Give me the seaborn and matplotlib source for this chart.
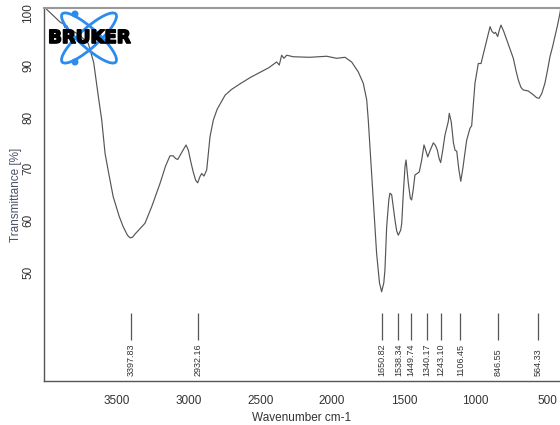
import matplotlib
matplotlib.use("Agg")
import matplotlib.pyplot as plt
import matplotlib.patheffects as pe
from matplotlib.patches import Ellipse, Circle
import pandas as pd
import seaborn as sns

# Spectrum (wavenumber cm-1, transmittance %)
wavenumber = [3990, 3940, 3895, 3870, 3860, 3848, 3835, 3813, 3760, 3698,
              3660, 3628, 3604, 3581, 3558, 3524, 3482, 3454, 3425, 3407,
              3390, 3373, 3340, 3303, 3256, 3198, 3160, 3129, 3106, 3090,
              3075, 3050, 3017, 3001, 2985, 2967, 2950, 2936, 2920, 2908,
              2892, 2873, 2860, 2850, 2827, 2800, 2745, 2700, 2640, 2570,
              2501, 2440, 2386, 2368, 2351, 2335, 2316, 2270, 2154, 2038,
              1968, 1910, 1864, 1818, 1783, 1759, 1748, 1736, 1713, 1690,
              1670, 1655, 1640, 1632, 1620, 1605, 1597, 1585, 1562, 1550,
              1539, 1522, 1515, 1504, 1492, 1485, 1477, 1469, 1455, 1446,
              1435, 1423, 1393, 1376, 1360, 1347, 1334, 1318, 1295, 1280,
              1267, 1255, 1244, 1230, 1214, 1191, 1184, 1170, 1155, 1144,
              1132, 1118, 1104, 1090, 1063, 1040, 1028, 1005, 982, 963,
              935, 900, 887, 873, 862, 847, 835, 824, 805, 784,
              760, 738, 720, 703, 685, 669, 650, 634, 600, 575,
              559, 540, 518, 500, 483, 465, 448, 430, 413, 405]
transmittance = [100.8, 99.5, 98.3, 97.9, 97.2, 97.6, 96.9, 96.7, 95.8, 94.2,
                 90.5, 84.0, 79.4, 73.0, 69.5, 64.6, 60.8, 58.8, 57.2, 56.7,
                 56.8, 57.4, 58.4, 59.5, 62.7, 67.2, 70.5, 72.5, 72.5, 72.0,
                 71.8, 73.0, 74.6, 73.6, 71.5, 69.4, 67.8, 67.3, 68.5, 69.1,
                 68.6, 69.8, 73.5, 76.2, 79.4, 81.5, 84.2, 85.3, 86.4, 87.6,
                 88.6, 89.5, 90.6, 90.0, 91.9, 91.3, 91.9, 91.6, 91.5, 91.7,
                 91.3, 91.5, 90.6, 88.7, 86.5, 83.3, 79.4, 74.0, 64.0, 53.7,
                 48.0, 46.3, 48.0, 50.5, 58.8, 64.0, 65.3, 65.0, 60.1, 58.0,
                 57.2, 58.2, 59.5, 65.3, 70.5, 71.7, 69.5, 67.2, 64.3, 64.0,
                 66.0, 68.8, 69.4, 71.7, 74.6, 73.5, 72.3, 73.5, 75.0, 74.5,
                 73.6, 72.0, 71.2, 73.5, 76.5, 79.1, 80.7, 79.0, 75.0, 73.6,
                 73.4, 70.0, 67.6, 70.0, 75.5, 77.8, 78.3, 86.5, 90.3, 90.3,
                 93.5, 97.4, 96.5, 96.1, 96.3, 95.5, 96.8, 97.7, 96.5, 94.8,
                 93.0, 91.3, 89.0, 87.1, 85.7, 85.2, 85.1, 85.0, 84.3, 83.7,
                 83.6, 84.5, 86.5, 89.0, 91.6, 93.5, 95.5, 97.7, 100.0, 101.5]

# Labelled peaks
peaks = [3397.83, 2932.16, 1650.82, 1538.34, 1449.74, 1340.17, 1243.10,
         1106.45, 846.55, 564.33]

x_ticks = [3500, 3000, 2500, 2000, 1500, 1000, 500]
y_ticks = [50, 60, 70, 80, 90, 100]

spectrum = pd.DataFrame({"wavenumber": wavenumber, "transmittance": transmittance})

sns.set_style("white")
plt.rcParams['font.family'] = ['Liberation Sans', 'DejaVu Sans']

W, H = 560, 425
fig = plt.figure(figsize=(W / 100, H / 100), dpi=100)
ax = fig.add_axes([44 / W, 44 / H, (W - 44) / W, 373 / H])

sns.lineplot(data=spectrum, x="wavenumber", y="transmittance", ax=ax,
             color="#555555", linewidth=0.85, estimator=None)

ax.set_xlim(4006, 413)
ax.set_ylim(29.1, 101.0)

# peak markers and labels
ax.vlines(peaks, 37.0, 42.3, color="#555555", linewidth=0.9)
for p in peaks:
    ax.text(p, 30.0, f"{p:.2f}", rotation=90, ha="center", va="bottom",
            fontsize=6.5, color="#333333")

ax.set_xticks(x_ticks)
ax.set_yticks(y_ticks)
ax.set_yticklabels([str(v) for v in y_ticks], rotation=90, va="center")
ax.tick_params(axis="both", direction="out", length=4, width=0.8,
               color="#666666", labelcolor="#333333", labelsize=8.5, pad=3)
ax.tick_params(axis="x", pad=6)

ax.set_xlabel("Wavenumber cm-1", fontsize=8.5, color="#333333", labelpad=4)
ax.set_ylabel("Transmittance [%]", fontsize=8.5, color="#4a5264", labelpad=0)

for side in ["left", "bottom"]:
    ax.spines[side].set_color("#555555")
    ax.spines[side].set_linewidth(1.0)
ax.spines["top"].set_color("#999999")
ax.spines["top"].set_linewidth(1.5)
ax.spines["right"].set_visible(False)

# Bruker logo in the top-left corner
blue = "#2b8cee"
tr = fig.dpi_scale_trans
cx, cy = 89 / 100, (H - 38) / 100
for ang in (42, -42):
    fig.add_artist(Ellipse((cx, cy), 0.72, 0.19, angle=ang, fill=False,
                           edgecolor=blue, linewidth=2.0, transform=tr))
for dy in (14, 62):
    fig.add_artist(Circle((75 / 100, (H - dy) / 100), 0.028, color=blue,
                          transform=tr))
fig.text(89 / W, 1 - 38 / H, "BRUKER", ha="center", va="center",
         fontsize=13, fontweight="heavy", family="DejaVu Sans", color="black",
         path_effects=[pe.withStroke(linewidth=1.2, foreground="black")])

fig.savefig("out.png", dpi=100)
